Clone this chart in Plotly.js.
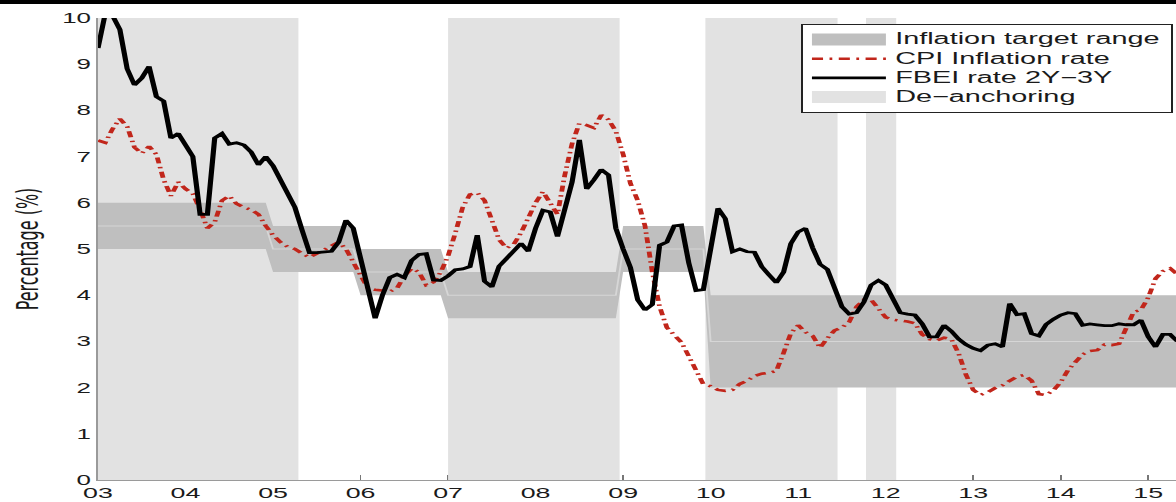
<!DOCTYPE html>
<html>
<head>
<meta charset="utf-8">
<script src="https://cdn.plot.ly/plotly-3.0.1.min.js"></script>
<style>
  html, body { margin: 0; padding: 0; background: #fff; overflow: hidden; }
  #wrap { position: relative; width: 1176px; height: 502px; overflow: hidden; }
  /* the figure is laid out narrow and widened horizontally */
  #chart { position: absolute; left: 0; top: 0; width: 636px; height: 502px;
           transform: scaleX(1.849057); transform-origin: 0 0; }
  #edge { position: absolute; left: 0; top: 0; width: 1176px; height: 4px; background: #000; }
</style>
</head>
<body>
<div id="wrap"><div id="chart"></div><div id="edge"></div></div>
<script>
// Monthly series, January 2003 onwards
const startYear = 2003;

// Forward break-even inflation, 2Y-3Y (%)
const fbeiRate = [
  9.35, 10.1, 10.05, 9.75, 8.9, 8.55, 8.7, 8.95, 8.3, 8.2, 7.4, 7.5,
  7.25, 7.0, 5.75, 5.75, 7.4, 7.5, 7.27, 7.3, 7.25, 7.1, 6.82, 7.0,
  6.8, 6.5, 6.2, 5.9, 5.4, 4.92, 4.92, 4.93, 4.95, 5.15, 5.62, 5.45,
  4.78, 4.1, 3.5, 4.0, 4.38, 4.45, 4.38, 4.75, 4.88, 4.9, 4.33, 4.32,
  4.42, 4.55, 4.57, 4.62, 5.3, 4.3, 4.18, 4.63, 4.8, 4.95, 5.12, 4.95,
  5.45, 5.84, 5.8, 5.27, 5.85, 6.45, 7.36, 6.3, 6.5, 6.72, 6.6, 5.45,
  5.0, 4.6, 3.9, 3.68, 3.8, 5.08, 5.15, 5.5, 5.52, 4.7, 4.1, 4.12,
  5.0, 5.88, 5.66, 4.94, 5.0, 4.94, 4.93, 4.62, 4.44, 4.27, 4.5, 5.12,
  5.37, 5.45, 5.02, 4.67, 4.56, 4.15, 3.75, 3.59, 3.62, 3.85, 4.22, 4.32,
  4.22, 3.92, 3.62, 3.59, 3.57, 3.38, 3.1, 3.1, 3.35, 3.22, 3.05, 2.93,
  2.85, 2.8, 2.92, 2.95, 2.88, 3.82, 3.58, 3.6, 3.17, 3.12, 3.37, 3.48,
  3.57, 3.62, 3.6, 3.35, 3.38, 3.36, 3.34, 3.34, 3.38, 3.36, 3.36, 3.46,
  3.1, 2.88, 3.15, 3.15, 3.0
];

// Annual CPI inflation (%)
const cpiRate = [
  7.35, 7.3, 7.6, 7.82, 7.65, 7.2, 7.07, 7.22, 7.05, 6.5, 6.15, 6.45,
  6.3, 6.2, 5.85, 5.45, 5.58, 6.05, 6.15, 5.98, 5.9, 5.85, 5.75, 5.5,
  5.3, 5.15, 5.05, 5.0, 4.9, 4.82, 4.9, 4.98, 5.08, 5.15, 5.0, 4.72,
  4.45, 4.15, 4.12, 4.1, 4.08, 4.15, 4.42, 4.58, 4.5, 4.22, 4.28, 4.5,
  4.85, 5.35, 5.9, 6.18, 6.22, 6.05, 5.6, 5.2, 5.02, 5.1, 5.35, 5.7,
  6.0, 6.24, 6.0, 5.75, 6.6, 7.28, 7.72, 7.68, 7.62, 7.9, 7.8, 7.55,
  7.05, 6.42, 6.05, 5.5, 4.5, 3.75, 3.3, 3.15, 2.98, 2.68, 2.35, 2.07,
  2.03, 1.95, 1.93, 1.95, 2.08, 2.15, 2.25, 2.3, 2.32, 2.36, 2.75, 3.18,
  3.35, 3.2, 3.12, 2.86, 3.07, 3.24, 3.3, 3.42, 3.75, 3.9, 3.9, 3.7,
  3.52, 3.47, 3.45, 3.43, 3.39, 3.15, 3.05, 3.02, 3.08, 3.05, 2.74, 2.28,
  1.95, 1.84, 1.9, 1.99, 2.05, 2.15, 2.24, 2.27, 2.15, 1.86, 1.84, 1.94,
  2.12, 2.38, 2.56, 2.72, 2.79, 2.81, 2.93, 2.92, 2.95, 3.32, 3.64, 3.68,
  3.95, 4.36, 4.52, 4.58, 4.45
];

// Central bank inflation target by year
const targetYear  = [2003, 2004, 2005, 2006, 2007, 2008, 2009, 2010, 2011, 2012, 2013, 2014, 2015];
const targetLow   = [5,    5,    4.5,  4,    3.5,  3.5,  4.5,  2,    2,    2,    2,    2,    2];
const targetHigh  = [6,    6,    5.5,  5,    4.5,  4.5,  5.5,  4,    4,    4,    4,    4,    4];
const targetPoint = [5.5,  5.5,  5,    4.5,  4,    4,    5,    3,    3,    3,    3,    3,    3];

// De-anchoring episodes (decimal years)
const deStart = [2003.0, 2007.0, 2009.94, 2011.775];
const deEnd   = [2005.29, 2008.96, 2011.45, 2012.12];

// Axis ticks
const tickYears  = [2003, 2004, 2005, 2006, 2007, 2008, 2009, 2010, 2011, 2012, 2013, 2014, 2015];
const tickLabels = ['03', '04', '05', '06', '07', '08', '09', '10', '11', '12', '13', '14', '15'];
const yTicks = [0, 1, 2, 3, 4, 5, 6, 7, 8, 9, 10];

const months = fbeiRate.map((_, k) => startYear + k / 12);

// target band on the monthly grid
function yearly(arr) {
  return months.map(t => {
    const i = targetYear.indexOf(Math.floor(t + 1e-9));
    return arr[i];
  });
}
const bandLow = yearly(targetLow);
const bandHigh = yearly(targetHigh);
const bandMid = yearly(targetPoint);

// shaded episode rectangles, one closed polygon each
const deX = [], deY = [];
deStart.forEach((s, i) => {
  const e = deEnd[i];
  deX.push(s, s, e, e, s, null);
  deY.push(0, 10, 10, 0, 0, null);
});

// legend entries: larger glyphs on a tight row pitch
const legendLabel = t => '<span style="font-size:15.6px">' + t + '</span>';

const traces = [
  {
    x: deX, y: deY, type: 'scatter', mode: 'lines', fill: 'toself',
    fillcolor: '#e2e2e2', line: {width: 0, color: '#e2e2e2'},
    name: legendLabel('De\u2212anchoring'), legendrank: 4, hoverinfo: 'skip'
  },
  {
    x: months, y: bandLow, type: 'scatter', mode: 'lines',
    line: {width: 0, color: '#bfbfbf'}, showlegend: false, hoverinfo: 'skip'
  },
  {
    x: months, y: bandHigh, type: 'scatter', mode: 'lines', fill: 'tonexty',
    fillcolor: '#bfbfbf', line: {width: 0, color: '#bfbfbf'},
    name: legendLabel('Inflation target range'), legendrank: 1, hoverinfo: 'skip'
  },
  {
    x: months, y: bandMid, type: 'scatter', mode: 'lines',
    line: {width: 1, color: '#d6d6d6'}, showlegend: false, hoverinfo: 'skip'
  },
  {
    x: months, y: cpiRate, type: 'scatter', mode: 'lines',
    line: {width: 2.6, color: '#c1261b', dash: '6px,3.5px,1.5px,3.5px'},
    name: legendLabel('CPI Inflation rate'), legendrank: 2
  },
  {
    x: months, y: fbeiRate, type: 'scatter', mode: 'lines',
    line: {width: 2.8, color: '#000000'},
    name: legendLabel('FBEI rate 2Y\u22123Y'), legendrank: 3
  }
];

const layout = {
  width: 636, height: 502,
  margin: {l: 52.5, r: 0, t: 18, b: 22, pad: 0},
  paper_bgcolor: '#ffffff', plot_bgcolor: '#ffffff',
  font: {family: 'Liberation Sans, Arial, Helvetica, sans-serif', color: '#1a1a1a'},
  showlegend: true,
  legend: {
    x: 0.652, y: 0.987, xanchor: 'left', yanchor: 'top',
    bgcolor: '#ffffff', bordercolor: '#222222', borderwidth: 1,
    font: {size: 12.4, color: '#1a1a1a'}, tracegroupgap: 0,
    traceorder: 'normal', itemwidth: 40
  },
  xaxis: {
    range: [2003, 2015.317], tickmode: 'array', tickvals: tickYears, ticktext: tickLabels,
    ticks: 'inside', ticklen: 5, tickcolor: '#777777', tickwidth: 1,
    showline: true, linecolor: '#9a9a9a', linewidth: 1,
    showgrid: false, zeroline: false, tickfont: {size: 14.5},
    layer: 'below traces', fixedrange: true
  },
  yaxis: {
    range: [0, 10], tickmode: 'array', tickvals: yTicks,
    ticks: '', showline: true, linecolor: '#9a9a9a', linewidth: 1,
    showgrid: false, zeroline: false, tickfont: {size: 14},
    title: {text: 'Percentage (%)', font: {family: 'DejaVu Sans, sans-serif', size: 16}, standoff: 8},
    fixedrange: true
  }
};

Plotly.newPlot('chart', traces, layout, {staticPlot: true, displayModeBar: false}).then(gd => {
  // taller key boxes for the filled entries, centred on the row
  gd.querySelectorAll('.legend .legendfill path').forEach(p => {
    const b = p.getBBox();
    if (!b.width) return;
    const cy = b.y + b.height / 2 - 1;
    p.setAttribute('d', 'M' + b.x + ',' + (cy - 6) + 'h' + b.width + 'v12h' + (-b.width) + 'z');
  });
});
</script>
</body>
</html>
